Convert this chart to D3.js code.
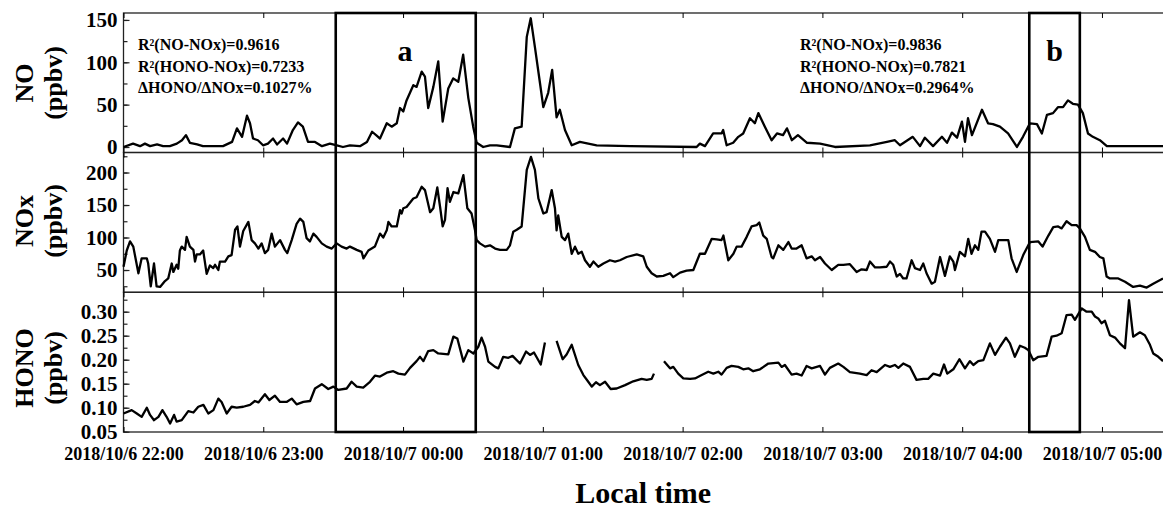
<!DOCTYPE html>
<html>
<meta charset="UTF-8">

<head>
  <script src="https://cdn.jsdelivr.net/npm/d3@7/dist/d3.min.js"></script>
  <style>
    body { margin: 0; background: #fff; }
    text { font-family: "Liberation Serif", "Times New Roman", serif; font-weight: bold; fill: #000; }
  </style>
</head>

<body>
  <svg id="chart" width="1163" height="520"></svg>

  <script type="text/javascript">
    // times are minutes after 2018/10/6 22:00
    const noTime = [0,4.1,7.1,9.2,11.4,14.4,17,19.9,22.9,25.1,
      26.8,28.5,31.6,34.1,38.4,42.7,46.6,48.7,50.9,53,
      54.3,55.6,57.7,59.9,62,64.2,65.9,68.5,70.2,72.7,
      74.9,77,79.2,82.2,85.2,88.6,91.6,94.2,97.2,101.5,
      104.5,106.7,108.8,110.1,113,115.1,117.3,118.7,120.1,121.5,
      124.4,125.8,128,129.4,130.8,133,135.1,137,139.4,141.5,
      143.7,145.8,148,150.1,151.6,154.4,157.3,160.2,165.9,168,
      170.9,173.1,174.8,176.6,178.8,180.2,182.3,184,185.9,187.3,
      189.5,192.4,195.9,203.1,217.4,246,247.4,249.6,253.1,256.7,
      257.4,258.9,261.7,263.9,266,268.9,271,272.5,275.3,278.2,
      280.5,283.1,284.8,286.9,289.5,293.4,299,305.4,320.4,327.7,
      331.1,333.3,338.8,341.9,344,347.5,351.3,353.5,355.6,357.8,
      359.9,361.2,362.5,364.2,368.5,371.1,373.2,376.2,379.7,383.5,
      386.1,389.1,392.1,394.2,396.4,399,401.1,403.3,405.4,407.5,
      409.7,411.8,414,416.1,419.1,422.1,446.2]
    const noValue = [0,4,1,4,1,3,1,1,4,8,
      14,5,3,1,1,1,6,22,12,37,
      28,10,8,2,4,10,3,10,4,20,
      29,24,6,6,1,4,2,0,2,1,
      6,18,13,10,28,24,28,46,42,55,
      73,71,89,83,46,71,101,30,69,81,
      77,109,58,24,5,0,2,2,0,22,
      24,130,152,118,75,47,64,91,35,44,
      20,2,6,2,1,0,4,1,16,16,
      20,2,5,12,16,34,28,40,24,8,
      16,14,22,8,14,5,4,0,2,6,
      8,2,12,1,11,1,12,5,17,11,
      30,6,34,14,44,28,27,24,16,0,
      12,28,27,16,38,40,47,47,55,51,
      50,40,16,12,8,1,1]

    const noxTime = [0,1.4,2.8,4.2,6.4,7.8,10,10.6,11.7,13.1,
      14.2,15.7,17.8,19.2,20.7,21.4,22.8,23.5,24.2,25,
      26.4,27.1,28.5,30,30.7,31.4,32.8,34.2,35.7,37.1,
      38.5,39.3,40.7,41.4,43.6,45,46.4,47.9,48.9,50,
      51.4,53.6,55,56.4,57.9,59.3,60.7,62.1,63.6,65,
      67.2,69.3,70.3,72.2,74.3,75.8,77.2,78.6,80,81.5,
      82.9,85.1,87.2,89.4,91.5,93.6,95.8,97.2,100.1,102.2,
      103,105.1,107.9,
      110.1,111.5,113,113.7,115.1,117.3,118.7,119.4,120.1,121.5,
      124.4,125.8,128,129.4,131.6,133,134.7,135.9,137,138,
      139.1,140.1,141.6,143.7,145.9,147.6,149.4,150.9,151.6,153,
      155.2,157.3,159.5,161.6,164.5,165.9,167.3,168.8,170.9,173.1,
      174.9,176.6,178.1,180.2,181.6,183.8,185.2,185.9,186.6,188.1,
      189.5,190.9,192.4,193.8,195.2,196.7,198.1,200.2,201.7,203.8,
      206,208.8,211,213.1,216,220.3,223.1,224.6,226.7,228.9,
      231.7,234.6,236,238.9,241.7,244.6,247.4,249.6,252.5,254.6,
      256.7,257.5,259.6,261.8,263.2,265.3,267.5,269.6,271.8,272.9,
      274.6,276.1,278.2,278.9,281.1,283.2,285.4,286.8,288.9,291.1,
      293.2,295.4,296.8,299,301.1,304,306.8,309,311.8,314.7,
      316.8,319,320.4,322.6,324.7,327.6,329,330.4,331.9,333.3,
      334.7,336.1,338.3,339.7,341.9,343.3,344.7,346.9,348.3,350.5,
      352.6,354.7,356.2,356.9,359,361.2,362.6,364,365.5,366.9,
      368.3,369.8,371.9,374.1,375.5,378.4,379.8,381.2,383.4,386.2,
      389.1,392.7,394.5,397,399.1,401.2,402.7,404.8,407,409.1,
      410.5,412.7,414.8,417,419.1,420.6,422,423.4,427,429.9,
      433.4,436.3,439.2,442,446.2]
    const noxValue = [55,80,94,86,45,68,68,60,25,60,
      25,24,33,37,60,47,58,52,80,86,
      81,101,86,81,63,74,74,80,44,57,
      53,58,50,63,63,71,73,112,117,86,
      110,124,96,91,83,91,76,81,106,86,
      96,81,76,96,121,129,124,99,94,106,
      101,91,86,83,91,86,83,86,81,78,
      68,80,86,
      106,100,111,124,117,117,142,137,145,147,
      160,162,178,173,139,145,177,147,117,127,
      176,155,170,168,196,145,137,111,96,91,
      86,88,83,81,81,88,109,112,117,204,
      224,204,160,137,139,173,145,111,134,101,
      96,106,75,86,75,78,65,55,63,55,
      60,65,63,65,70,74,71,55,45,40,
      41,45,39,46,49,50,75,75,98,97,
      96,103,65,75,86,86,101,117,119,123,
      103,98,70,68,88,81,93,83,83,88,
      68,71,65,70,60,50,58,58,59,47,
      51,50,63,54,54,55,63,58,40,44,
      37,37,65,53,50,60,45,29,32,70,
      41,71,63,50,78,71,98,75,88,81,
      109,109,98,78,96,96,96,68,47,73,
      93,94,86,103,116,117,114,125,119,119,
      114,101,81,78,70,68,40,37,37,32,
      24,26,23,29,37]

    // null marks a gap in the HONO record
    const honoTime = [0,3.5,5.7,7.8,10,11.4,13.1,15,16.7,18.5,
      20,21.7,22.8,25,27.8,30,32.1,34.3,36.4,38.6,
      40.7,42.1,44.3,46.4,48.6,51.4,54.3,56.4,57.9,60.7,
      62.6,65,67.2,70,72.2,74.3,77.2,80.1,82.2,85.1,
      87.9,90.1,92.2,95.8,97.9,100.1,102.9,105.8,108,
      110.1,113,115.8,118,120.8,123,125.8,127.3,128.7,130.8,
      133,135.1,139.4,141.6,143.3,145.9,148,150.2,152.3,153.7,
      155.2,156.6,159.5,160.9,163,165.2,167,170.2,172.8,174.5,
      176.2,179.1,180.9,182.5,185.9,188.5,190.2,192.4,195.2,197.4,
      199.5,201,202.8,204.5,206.7,209.1,211.7,215.3,218.8,222.4,
      224.6,226.7,227.7,230,232,234.6,236,238.1,240.3,243.2,
      245.3,248.2,251,253.2,255.3,256.7,258.9,261,263.9,266,
      268.2,270.3,273.2,
      276.8,281.1,282.5,283.9,286.8,288.9,291.1,293.2,295.4,299,
      301.1,303.2,306.8,309,311.8,316.1,319,321.1,323.3,326.9,
      329,331.1,332.6,334.7,337.6,340.4,343.3,345.4,347.6,350.5,
      352.2,353.6,356.2,358.8,361.2,363.3,364.8,366.9,369.1,371.9,
      374.1,376.2,378.8,380.5,382.6,384.8,386.9,388.4,390.5,392.7,
      396.2,398.4,400.5,402.7,404.8,407,408.4,411.3,413.4,415.6,
      417,418.4,419.8,421.3,423.4,425.6,427.7,429.9,431.6,433.4,
      436.3,438.4,440.6,442,444.2,446.2]
    const honoValue = [.088,.095,.088,.081,.100,.085,.074,.081,.095,.081,
      .067,.085,.071,.074,.093,.090,.102,.106,.088,.095,
      .119,.112,.088,.102,.100,.102,.106,.114,.111,.128,
      .116,.125,.112,.112,.119,.107,.112,.114,.140,.149,
      .139,.144,.137,.140,.154,.144,.142,.154,.167,
      .165,.173,.176,.171,.169,.183,.197,.206,.197,.218,
      .220,.213,.211,.248,.244,.196,.220,.213,.227,.246,
      .227,.196,.185,.182,.206,.204,.208,.192,.217,.210,
      .215,.190,.236,null,.239,.201,.211,.231,.189,.168,
      .154,.144,.153,.147,.154,.139,.140,.147,.155,.160,
      .158,.160,.171,null,.197,.182,.185,.171,.161,.160,
      .161,.168,.175,.171,.175,.169,.183,.187,.185,.180,
      .182,.176,.180,
      .192,.194,.185,.189,.169,.171,.167,.187,.182,.187,
      .169,.183,.192,.185,.174,.171,.168,.178,.174,.189,
      .185,.189,.183,.192,.185,.158,.160,.160,.171,.167,
      .190,.171,.180,.201,.182,.197,.189,.197,.199,.234,
      .210,.227,.246,.234,.206,.229,.225,.220,.199,.206,
      .208,.248,.250,.255,.293,.294,.283,.307,.300,.300,
      .290,.286,.276,.281,.251,.246,.234,.224,.324,.248,
      .257,.251,.231,.213,.206,.197]

    const noTicks = [0, 50, 100, 150]
    const noxTicks = [50, 100, 150, 200]
    const honoTicks = [0.05, 0.10, 0.15, 0.20, 0.25, 0.30]

    const statsA = ["R\u00b2(NO-NOx)=0.9616", "R\u00b2(HONO-NOx)=0.7233", "\u0394HONO/\u0394NOx=0.1027%"]
    const statsB = ["R\u00b2(NO-NOx)=0.9836", "R\u00b2(HONO-NOx)=0.7821", "\u0394HONO/\u0394NOx=0.2964%"]
    // highlighted periods, minutes after start
    const boxes = [{ label: "a", from: 91.1, to: 151.2 }, { label: "b", from: 388.8, to: 410.5 }]

    const start = new Date(2018, 9, 6, 22, 0)
    const toDate = m => new Date(start.getTime() + m * 60000)

    const svg = d3.select("#chart")
    const left = 123.5, right = 1163
    const x = d3.scaleTime()
      .domain([toDate(0), toDate(446.2)])
      .range([left, right])

    const panels = [
      { name: "NO", time: noTime, value: noValue, top: 13, bottom: 152.5, domain: [-6.5, 158.2],
        major: noTicks, minor: d3.range(0, 7).map(k => k * 25), fmt: d3.format("d"), titleY: 83 },
      { name: "NOx", time: noxTime, value: noxValue, top: 152.5, bottom: 292.3, domain: [15.7, 230.8],
        major: noxTicks, minor: d3.range(1, 10).map(k => k * 25), fmt: d3.format("d"), titleY: 221 },
      { name: "HONO", time: honoTime, value: honoValue, top: 292.3, bottom: 432, domain: [0.0494, 0.3404],
        major: honoTicks, minor: d3.range(2, 14).map(k => k * 0.025), fmt: d3.format(".2f"), titleY: 368 }
    ]

    panels.forEach(p => {
      const y = d3.scaleLinear().domain(p.domain).range([p.bottom, p.top])
      const g = svg.append("g")

      g.append("rect")
        .attr("x", left).attr("y", p.top)
        .attr("width", right - left + 5).attr("height", p.bottom - p.top)
        .style("fill", "none").style("stroke", "#222").style("stroke-width", 1.3)

      // minor ticks
      g.append("g")
        .attr("transform", `translate(${left},0)`)
        .call(d3.axisLeft(y).tickValues(p.minor).tickSize(-4).tickFormat(""))
        .call(a => a.select(".domain").remove())

      g.append("g")
        .attr("transform", `translate(${left},0)`)
        .call(d3.axisLeft(y).tickValues(p.major).tickSize(-6).tickPadding(6).tickFormat(p.fmt))
        .call(a => a.select(".domain").remove())
        .call(a => a.selectAll("text").style("font-size", "21px").attr("font-family", null))

      g.selectAll(".tick line").style("stroke", "#222").style("stroke-width", 1.2)

      g.append("g")
        .attr("transform", `translate(0,${p.top})`)
        .call(d3.axisTop(x).ticks(d3.timeHour.every(1)).tickSize(-5).tickFormat(""))
        .call(a => a.select(".domain").remove())
      g.append("g")
        .attr("transform", `translate(0,${p.bottom})`)
        .call(d3.axisBottom(x).ticks(d3.timeHour.every(1)).tickSize(-5).tickFormat(""))
        .call(a => a.select(".domain").remove())

      const pts = p.time.map((t, i) => ({ t: toDate(t), v: p.value[i] }))
      g.append("path")
        .datum(pts)
        .attr("d", d3.line().defined(d => d.v != null).x(d => x(d.t)).y(d => y(d.v)))
        .style("fill", "none")
        .style("stroke", "#000")
        .style("stroke-width", 2.3)
        .style("stroke-linejoin", "round")

      const title = g.append("g")
        .attr("transform", `translate(0,${p.titleY}) rotate(-90)`)
      title.append("text")
        .attr("x", 0).attr("y", 24)
        .attr("dominant-baseline", "central")
        .style("text-anchor", "middle")
        .style("font-size", "26px")
        .text(p.name)
      title.append("text")
        .attr("x", 0).attr("y", 53)
        .attr("dominant-baseline", "central")
        .style("text-anchor", "middle")
        .style("font-size", "26px")
        .text("(ppbv)")
    })

    // time axis labels
    svg.append("g")
      .attr("transform", "translate(0,432)")
      .call(d3.axisBottom(x).ticks(d3.timeHour.every(1)).tickSize(0).tickPadding(15)
        .tickFormat(d3.timeFormat("%Y/%-m/%-d %H:%M")))
      .call(a => a.select(".domain").remove())
      .call(a => a.selectAll("text").style("font-size", "18px").attr("font-family", null))

    svg.append("text")
      .attr("x", (left + right) / 2).attr("y", 503)
      .style("text-anchor", "middle")
      .style("font-size", "30px")
      .text("Local time")

    ;[[statsA, 138], [statsB, 800]].forEach(([lines, tx]) => {
      svg.selectAll(null)
        .data(lines)
        .enter()
        .append("text")
        .attr("x", tx)
        .attr("y", (d, i) => 50 + i * 21.5)
        .style("font-size", "16px")
        .text(d => d)
    })

    svg.selectAll("rect.box")
      .data(boxes)
      .enter()
      .append("rect")
      .attr("class", "box")
      .attr("x", d => x(toDate(d.from)))
      .attr("y", 13)
      .attr("width", d => x(toDate(d.to)) - x(toDate(d.from)))
      .attr("height", 432 - 13)
      .style("fill", "none")
      .style("stroke", "#000")
      .style("stroke-width", 2.6)

    svg.selectAll("text.boxlabel")
      .data(boxes)
      .enter()
      .append("text")
      .attr("class", "boxlabel")
      .attr("x", d => d.label === "a" ? 405 : (x(toDate(d.from)) + x(toDate(d.to))) / 2)
      .attr("y", 61)
      .style("text-anchor", "middle")
      .style("font-size", "30px")
      .text(d => d.label)
  </script>
</body>

</html>
